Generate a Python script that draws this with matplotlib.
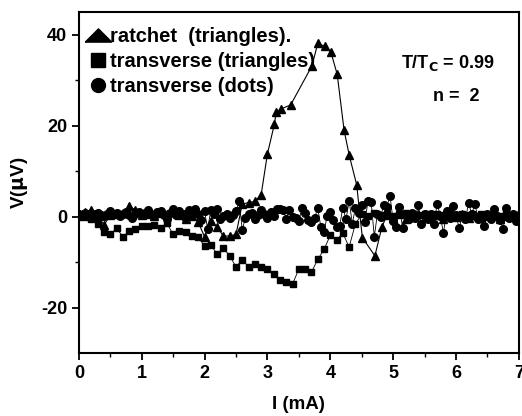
import matplotlib.pyplot as plt
import numpy as np

plt.rcParams['font.family'] = ['Liberation Sans', 'DejaVu Sans']
plt.rcParams['font.weight'] = 'bold'
plt.rcParams['axes.unicode_minus'] = False

## ratchet (triangles)
I_tri = [0.0, 0.1, 0.2, 0.3, 0.4, 0.5, 0.6, 0.7, 0.8, 0.9,
         1.0, 1.1, 1.2, 1.3, 1.4, 1.5, 1.6, 1.7, 1.8, 1.9,
         2.0, 2.1, 2.2, 2.3, 2.4, 2.5, 2.6, 2.7, 2.8, 2.9,
         3.0, 3.11, 3.14, 3.22, 3.37, 3.71, 3.8, 3.91, 4.01, 4.11,
         4.22, 4.3, 4.42, 4.51, 4.71, 4.82, 4.9, 5.0, 5.1, 5.2,
         5.3, 5.4, 5.5, 5.6, 5.7, 5.8, 5.9, 6.0, 6.1, 6.2,
         6.3, 6.4, 6.5, 6.6, 6.7, 6.8, 6.9, 7.0]
V_tri = [0.5, 1.1, 1.5, 0.2, -1.8, 0.3, 0.5, 0.8, 2.3, 1.5,
         0.4, 0.6, 0.2, 0.9, 0.5, 1.3, 0.3, -0.5, 0.2, -1.2,
         -4.4, -1.0, -2.2, -4.3, -4.2, -3.9, 2.8, 3.1, 3.4, 4.8,
         13.8, 20.3, 23.0, 23.7, 24.6, 33.2, 38.1, 37.5, 36.2, 31.3,
         19.0, 13.6, 7.0, -4.6, -8.6, -2.3, 0.3, -0.2, 0.5, -0.4,
         0.2, 0.6, -0.3, 0.1, 0.4, -0.5, 0.3, 0.0, 0.5, -0.2,
         0.4, -0.3, 0.2, 0.5, -0.4, 0.1, 0.3, -0.1]

## transverse (triangles) -> squares, every 0.1 mA
I_sq = np.round(np.arange(0, 7.01, 0.1), 2)
V_sq = [0.0, 0.0, -0.5, -1.5, -3.4, -3.9, -2.5, -4.4, -3.2, -2.7,
        -2.0, -2.0, -1.8, -2.5, -1.4, -3.9, -3.2, -3.3, -4.2, -4.5,
        -6.5, -6.2, -8.2, -6.9, -8.6, -11.0, -9.5, -11.0, -10.4, -11.0,
        -11.6, -12.7, -14.0, -14.3, -14.8, -11.5, -11.6, -12.2, -9.4, -7.2,
        -4.1, -5.1, -3.6, -6.7, -1.5, 0.5, 0.2, 0.8, 0.3, 0.6,
        0.1, 0.5, 0.9, 0.2, 0.4, 0.7, 0.0, 0.5, 0.3, 0.8,
        0.2, 0.6, 0.4, 0.1, 0.7, 0.3, 0.5, 0.2, 0.6, 0.4, 0.3]

## transverse (dots), every 0.05 mA
I_dot = np.round(np.arange(0, 7.001, 0.05), 2)
V_dot = [0.5, 0.3, 0.8, 0.2, -0.3, 0.6, 0.9, 0.4, 0.1, 0.7,
         1.2, 0.5, 0.8, 0.2, 0.6, 1.0, 0.3, -0.2, 0.5, 1.1, 0.4,
         0.8, 1.5, 0.6, 0.2, 1.0, 1.3, 0.4, -0.4, 0.9, 1.6,
         0.3, 1.2, 0.7, -0.5, 1.4, 0.5, 1.8, 0.6, -0.8, 1.2,
         -2.7, 1.5, 0.6, 1.7, -0.5, 0.1, 0.5, -0.2, 0.4, 1.2,
         3.4, -2.9, -0.2, 0.5, 0.8, -0.6, 0.3, 1.5, 0.6, -0.3,
         1.1, 0.2, 1.8, 1.6, 1.5, -0.4, 1.4, 0.0, -0.2, -1.0,
         2.0, 0.9, -0.7, -1.2, -0.3, 1.9, -2.2, -3.4, 0.2, 1.1,
         -0.7, -2.2, -2.0, 2.0, -0.6, 3.5, -1.5, 1.9, 0.9, 2.6,
         -1.2, 3.4, 3.3, -4.4, 0.7, 0.0, 2.6, 2.2, 4.6, -0.9,
         -2.3, 2.2, -2.4, 0.3, -0.5, 0.8, -0.2, 2.5, -1.6, 0.5,
         -0.4, 0.6, -1.6, 2.9, 0.2, -3.6, 1.2, -0.3, 2.4, 0.4,
         -2.5, 0.2, -0.6, 3.1, 0.5, 2.9, -0.4, 0.3, -2.0, 0.6,
         -0.5, 1.7, 0.1, -0.8, -2.7, 2.0, -0.3, 0.5, -1.0, 0.4]

fig = plt.figure(figsize=(5.22, 4.16), dpi=100)
ax = fig.add_axes([0.151, 0.151, 0.843, 0.820])

ax.plot(I_sq, V_sq, color='k', lw=0.6, marker='s', ms=5, ls='-',
        label='transverse (triangles)')
ax.plot(I_dot, V_dot, color='k', lw=0.6, marker='o', ms=5.5, ls='-',
        label='transverse (dots)')
ax.plot(I_tri, V_tri, color='k', lw=0.8, marker='^', ms=5.5, ls='-',
        label='ratchet  (triangles).')

# legend: wide flat triangle, square, dot
flat_tri = [(-1, -0.5), (1, -0.5), (0, 0.5), (-1, -0.5)]
leg_h = [plt.Line2D([], [], color='k', marker=flat_tri, ls='none', ms=19),
         plt.Line2D([], [], color='k', marker='s', ls='none', ms=9.5),
         plt.Line2D([], [], color='k', marker='o', ls='none', ms=10)]
leg_l = ['ratchet  (triangles).', 'transverse (triangles)', 'transverse (dots)']
ax.legend(leg_h, leg_l, loc='upper left', bbox_to_anchor=(-0.02, 1.0),
          frameon=False, handlelength=1.25, handletextpad=0.0,
          labelspacing=0.3, borderaxespad=0.0, borderpad=0.75,
          prop={'weight': 'bold', 'size': 14.5})

ax.text(5.87, 33.8, r'T/T$_\mathbf{C}$ = 0.99', ha='center', va='center',
        fontsize=13, fontweight='bold')
ax.text(6.01, 26.5, 'n =  2', ha='center', va='center',
        fontsize=13, fontweight='bold')

ax.set_xlim(0, 7)
ax.set_ylim(-30, 45)
ax.set_xticks(range(0, 8))
ax.set_xticks(np.arange(0.5, 7, 1), minor=True)
ax.set_yticks([-20, 0, 20, 40])
ax.set_yticks([-10, 10, 30], minor=True)
ax.tick_params(which='major', direction='out', length=5, width=1.3,
               labelsize=13)
ax.tick_params(which='minor', direction='out', length=3, width=1.0)
for s in ax.spines.values():
    s.set_linewidth(1.5)

ax.set_xlabel('I (mA)', fontsize=13.5, fontweight='bold', labelpad=10)
ax.set_ylabel(r'V($\mathbf{\mu}$V)', fontsize=13.5, fontweight='bold',
              labelpad=8)

fig.savefig('out.png', dpi=100)
